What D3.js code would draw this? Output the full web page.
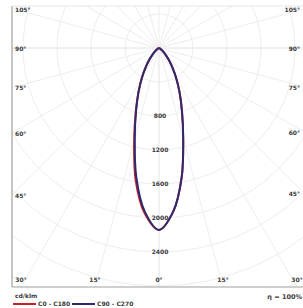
<!DOCTYPE html>
<html>
<head>
<meta charset="utf-8">
<script src="https://cdn.jsdelivr.net/npm/d3@7"></script>
<style>
  body { margin: 0; background: #fff; }
  text { font-family: "DejaVu Sans", sans-serif; fill: #3a3a3a; }
</style>
</head>
<body>
<svg id="chart" width="303" height="308"></svg>
<script>
// gamma angles (deg) and luminous intensity in cd/klm
var angles = [0, 5, 10, 15, 20, 25, 30, 35, 40, 45, 50, 55, 60, 70, 80, 90];
var c0    = [2140, 1930, 1540, 1100, 790, 570, 400, 270, 175, 105, 58, 27, 10, 0, 0, 0];
var c180  = [2140, 1950, 1580, 1130, 800, 570, 400, 270, 175, 105, 58, 27, 10, 0, 0, 0];
var c90   = [2140, 1930, 1540, 1100, 790, 570, 400, 270, 175, 105, 58, 27, 10, 0, 0, 0];
var c270  = [2140, 1930, 1540, 1100, 790, 570, 400, 270, 175, 105, 58, 27, 10, 0, 0, 0];
var ringLabels = [800, 1200, 1600, 2000, 2400];
var angleTicks = [0, 15, 30, 45, 60, 75, 90, 105];

var svg = d3.select("#chart");
var frame = {left: 12, top: 6, right: 304, bottom: 287};
var cx = 159, cy = 48;

var r = d3.scaleLinear().domain([0, 400]).range([0, 34]);
var rad = function(deg) { return deg * Math.PI / 180; };

svg.append("clipPath").attr("id", "frameclip")
  .append("rect")
    .attr("x", frame.left).attr("y", frame.top)
    .attr("width", frame.right - frame.left).attr("height", frame.bottom - frame.top);

var grid = svg.append("g").attr("clip-path", "url(#frameclip)");

// rings every 400 cd
grid.selectAll(".ring")
  .data(d3.range(400, 6001, 400))
  .enter().append("circle")
    .attr("cx", cx).attr("cy", cy)
    .attr("r", function(d) { return r(d); })
    .attr("fill", "none")
    .attr("stroke", "#ededed")
    .attr("stroke-width", 1);

// radial lines every 15 deg, both sides
var spokes = [];
d3.range(0, 181, 15).forEach(function(a) { spokes.push(a); if (a > 0 && a < 180) spokes.push(-a); });
grid.selectAll(".spoke")
  .data(spokes)
  .enter().append("line")
    .attr("x1", cx).attr("y1", cy)
    .attr("x2", function(d) { return cx + 600 * Math.sin(rad(d)); })
    .attr("y2", function(d) { return cy + 600 * Math.cos(rad(d)); })
    .attr("stroke", function(d) { return Math.abs(d) == 90 || d == 0 ? "#e2e2e2" : "#ededed"; })
    .attr("stroke-width", 1);

// frame
svg.append("line").attr("x1", frame.left).attr("x2", frame.left)
  .attr("y1", frame.top).attr("y2", frame.bottom).attr("stroke", "#a0a0a0").attr("stroke-width", 1.2);
svg.append("line").attr("x1", frame.left).attr("x2", 303)
  .attr("y1", frame.bottom).attr("y2", frame.bottom).attr("stroke", "#a0a0a0").attr("stroke-width", 1.2);
svg.append("line").attr("x1", frame.left).attr("x2", 303)
  .attr("y1", frame.top).attr("y2", frame.top).attr("stroke", "#e4e4e4").attr("stroke-width", 1);

// angle labels where the spokes meet the frame
var labelPos = [];
angleTicks.forEach(function(a) {
  [-1, 1].forEach(function(s) {
    var t = rad(a), x, y;
    var dxSide = s < 0 ? cx - frame.left : frame.right - cx;
    if (a < 90 && (frame.bottom - cy) * Math.tan(t) < dxSide) {
      x = cx + s * (frame.bottom - cy) * Math.tan(t);
      labelPos.push({a: a, x: x, y: frame.bottom - 5, anchor: "middle"});
    } else {
      y = cy + dxSide / Math.tan(t);
      labelPos.push({a: a, x: s < 0 ? frame.left + 3 : 300, y: y + 3, anchor: s < 0 ? "start" : "end"});
    }
  });
});
var seen = {};
labelPos = labelPos.filter(function(d) { var k = d.a + "_" + Math.round(d.x); if (seen[k]) return false; seen[k] = 1; return true; });
svg.selectAll(".alabel")
  .data(labelPos)
  .enter().append("text")
    .attr("x", function(d) { return d.x; })
    .attr("y", function(d) { return d.y; })
    .attr("text-anchor", function(d) { return d.anchor; })
    .attr("font-size", 6)
    .attr("font-weight", "bold")
    .text(function(d) { return d.a + "°"; });

// curves
function pts(vals, side) {
  return angles.map(function(a, i) {
    var t = rad(a);
    return [cx + side * r(vals[i]) * Math.sin(t), cy + r(vals[i]) * Math.cos(t)];
  });
}
function outline(left, right) {
  return pts(left, -1).reverse().concat(pts(right, 1).slice(1));
}
var line = d3.line().curve(d3.curveCatmullRom.alpha(0.5));

svg.append("path")
  .attr("d", line(outline(c180, c0)))
  .attr("fill", "none")
  .attr("stroke", "#c8202a")
  .attr("stroke-width", 2);
svg.append("path")
  .attr("d", line(outline(c270, c90)))
  .attr("fill", "none")
  .attr("stroke", "#2d2a6e")
  .attr("stroke-width", 2);

// ring value labels
svg.selectAll(".rlabel")
  .data(ringLabels)
  .enter().append("text")
    .attr("x", cx + 1)
    .attr("y", function(d) { return cy + r(d) + 2; })
    .attr("text-anchor", "middle")
    .attr("font-size", 6)
    .attr("font-weight", "bold")
    .text(function(d) { return d; });

// legend
svg.append("text").attr("x", 15).attr("y", 298).attr("font-size", 6).attr("font-weight", "bold").text("cd/klm");
svg.append("line").attr("x1", 13).attr("x2", 36).attr("y1", 304).attr("y2", 304)
  .attr("stroke", "#c8202a").attr("stroke-width", 2);
svg.append("text").attr("x", 38).attr("y", 306).attr("font-size", 6).attr("font-weight", "bold").text("C0 - C180");
svg.append("line").attr("x1", 72).attr("x2", 95).attr("y1", 304).attr("y2", 304)
  .attr("stroke", "#2d2a6e").attr("stroke-width", 2);
svg.append("text").attr("x", 97).attr("y", 306).attr("font-size", 6).attr("font-weight", "bold").text("C90 - C270");
svg.append("text").attr("x", 302).attr("y", 299).attr("text-anchor", "end")
  .attr("font-size", 6.5).attr("font-weight", "bold").text("η = 100%");
</script>
</body>
</html>
